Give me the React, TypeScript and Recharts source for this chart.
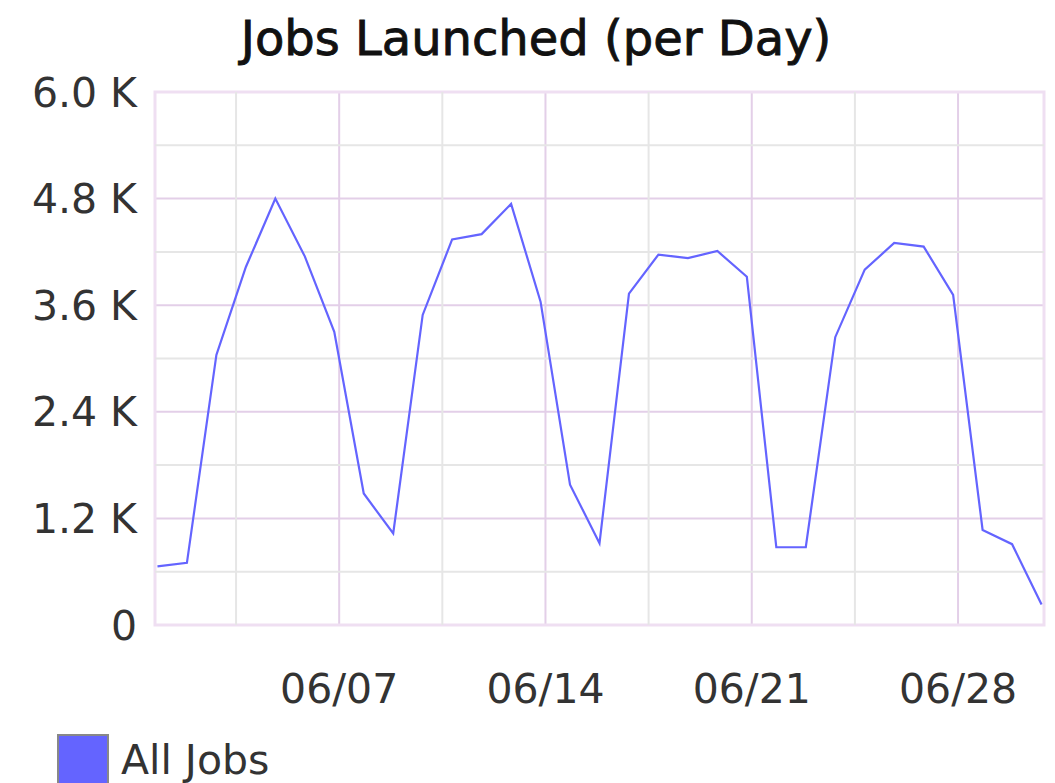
import React from 'react';
import { LineChart, Line, XAxis, YAxis, CartesianGrid, ReferenceLine, ReferenceArea, Legend } from 'recharts';

// one point per day, 06/01 .. 07/01
const dates = [
    '06/01', '06/02', '06/03', '06/04', '06/05', '06/06', '06/07', '06/08', '06/09', '06/10',
    '06/11', '06/12', '06/13', '06/14', '06/15', '06/16', '06/17', '06/18', '06/19', '06/20',
    '06/21', '06/22', '06/23', '06/24', '06/25', '06/26', '06/27', '06/28', '06/29', '06/30', '07/01',
];
const allJobs = [
    660, 700, 3040, 4030, 4800, 4150, 3300, 1480, 1030, 3490,
    4340, 4400, 4740, 3640, 1580, 920, 3730, 4170, 4130, 4210,
    3920, 875, 875, 3240, 4000, 4300, 4260, 3715, 1070, 910, 230,
];
const tickDates = ['06/07', '06/14', '06/21', '06/28'];
const yTicks = [0, 1200, 2400, 3600, 4800, 6000];
const yMinor = [600, 1800, 3000, 4200, 5400];

// x is hours from 06/01 00:00 UTC; axis ticks sit on local midnight (UTC-4)
const TZ = 4;
const data = dates.map((d, i) => ({ t: i * 24, date: d, jobs: allJobs[i] }));
const xTicks = tickDates.map((d) => dates.indexOf(d) * 24 + TZ);
const xMinor = xTicks.map((t) => t - 84);
const labelOf: Record<number, string> = {};
xTicks.forEach((t, i) => (labelOf[t] = tickDates[i]));

const FONT = 'DejaVu Sans, Verdana, sans-serif';
const MAJOR = '#e3cfe8';
const MINOR = '#e6e6e6';
const BLUE = '#6464ff';

const fmtY = (v: number) => (v === 0 ? '0' : (v / 1000).toFixed(1) + ' K');

const LegendBox = () => (
    <div style={{ display: 'flex', alignItems: 'center', fontFamily: FONT, fontSize: 41, color: '#333' }}>
        <div style={{ width: 48, height: 48, background: BLUE, border: '2px solid #888', marginRight: 12 }} />
        <span>All Jobs</span>
    </div>
);

const App = () => {
    return (
        <div style={{ position: 'absolute', left: 0, top: 0, width: 1055, height: 783, background: '#fff' }}>
            <div
                style={{
                    position: 'absolute',
                    left: 0,
                    width: 1072,
                    top: 14,
                    textAlign: 'center',
                    fontFamily: FONT,
                    fontSize: 48,
                    lineHeight: '48px',
                    color: '#111',
                    WebkitTextStroke: '0.9px #111',
                }}
            >
                Jobs Launched (per Day)
            </div>
            <LineChart width={1055} height={783} data={data} margin={{ top: 92, right: 11, left: 0, bottom: 0 }}>
                {xMinor.map((x) => (
                    <ReferenceLine key={'vx' + x} x={x} stroke={MINOR} strokeWidth={2} ifOverflow='hidden' />
                ))}
                {yMinor.map((y) => (
                    <ReferenceLine key={'hy' + y} y={y} stroke={MINOR} strokeWidth={2} />
                ))}
                <CartesianGrid stroke={MAJOR} strokeWidth={2} />
                <ReferenceArea x1={-2} x2={722} y1={0} y2={6000} fill='none' stroke='#efdff2' strokeWidth={3} />
                <XAxis
                    dataKey='t'
                    type='number'
                    domain={[-2, 722]}
                    ticks={xTicks}
                    tickFormatter={(v: number) => labelOf[v] || ''}
                    axisLine={false}
                    tickLine={false}
                    tickSize={0}
                    tickMargin={49}
                    height={158}
                    tick={{ fontFamily: FONT, fontSize: 41, fill: '#333' }}
                    allowDataOverflow
                />
                <YAxis
                    domain={[0, 6000]}
                    ticks={yTicks}
                    tickFormatter={fmtY}
                    axisLine={false}
                    tickLine={false}
                    tickSize={0}
                    tickMargin={18}
                    width={155}
                    tick={{ fontFamily: FONT, fontSize: 41, fill: '#333' }}
                />
                <Legend
                    layout='vertical'
                    verticalAlign='middle'
                    align='center'
                    wrapperStyle={{ left: 57, top: 734 }}
                    content={() => <LegendBox />}
                />
                <Line
                    type='linear'
                    dataKey='jobs'
                    name='All Jobs'
                    stroke={BLUE}
                    strokeWidth={2.2}
                    dot={false}
                    isAnimationActive={false}
                />
            </LineChart>
        </div>
    );
};

export default App;
